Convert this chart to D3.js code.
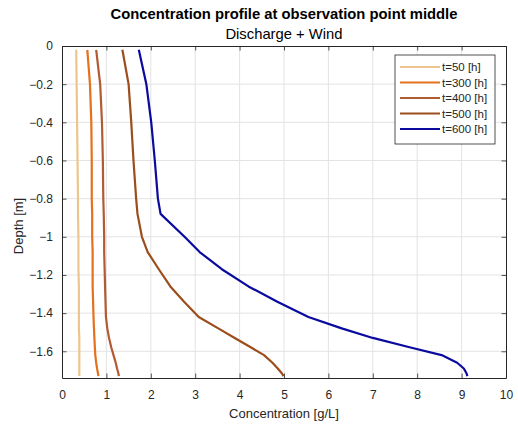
<!DOCTYPE html>
<html>
<head>
<meta charset="utf-8">
<script src="https://cdn.jsdelivr.net/npm/d3@7"></script>
<style>
  html, body { margin: 0; padding: 0; background: #fff; }
  svg { display: block; font-family: "Liberation Sans", Arial, Helvetica, sans-serif; }
</style>
</head>
<body>
<svg id="chart" width="518" height="428"></svg>
<script>
// Depth levels (m) shared by every profile
const depths = [-0.02, -0.2, -0.4, -0.6, -0.8, -0.88, -1.0, -1.08, -1.17, -1.26,
                -1.34, -1.42, -1.48, -1.53, -1.58, -1.62, -1.66, -1.69, -1.715, -1.73];

// Concentration (g/L) at each depth level, one array per time
const conc50  = [0.32, 0.33, 0.34, 0.35, 0.36, 0.36, 0.37, 0.37, 0.37, 0.38,
                 0.38, 0.38, 0.38, 0.39, 0.39, 0.39, 0.39, 0.39, 0.39, 0.39];
const conc300 = [0.57, 0.63, 0.66, 0.67, 0.67, 0.68, 0.68, 0.69, 0.69, 0.69,
                 0.70, 0.71, 0.72, 0.73, 0.74, 0.75, 0.77, 0.79, 0.81, 0.82];
const conc400 = [0.77, 0.86, 0.90, 0.92, 0.93, 0.94, 0.95, 0.95, 0.96, 0.97,
                 0.98, 0.99, 1.02, 1.06, 1.11, 1.16, 1.21, 1.24, 1.27, 1.28];
const conc500 = [1.36, 1.50, 1.56, 1.61, 1.67, 1.70, 1.80, 1.93, 2.18, 2.44,
                 2.75, 3.08, 3.52, 3.89, 4.26, 4.55, 4.74, 4.86, 4.95, 4.99];
const conc600 = [1.73, 1.90, 2.01, 2.09, 2.16, 2.22, 2.76, 3.10, 3.60, 4.20,
                 4.85, 5.55, 6.30, 7.00, 7.85, 8.55, 8.90, 9.05, 9.11, 9.13];

const seriesNames  = ["t=50 [h]", "t=300 [h]", "t=400 [h]", "t=500 [h]", "t=600 [h]"];
const seriesValues = [conc50, conc300, conc400, conc500, conc600];
const seriesColors = ["#EDC48D", "#E4711E", "#B25A32", "#9B4E1C", "#0A0A9E"];

const xTicks = [0, 1, 2, 3, 4, 5, 6, 7, 8, 9, 10];
const yTicks = [0, -0.2, -0.4, -0.6, -0.8, -1, -1.2, -1.4, -1.6];

const titleText    = "Concentration profile at observation point middle";
const subtitleText = "Discharge + Wind";
const xLabelText   = "Concentration [g/L]";
const yLabelText   = "Depth [m]";

// Plot box
const plotLeft = 62, plotRight = 506, plotTop = 46, plotBottom = 378;
const svg = d3.select("#chart");

const x = d3.scaleLinear().domain([0, 10]).range([plotLeft, plotRight]);
const y = d3.scaleLinear().domain([-1.74, 0]).range([plotBottom, plotTop]);

const axisColor = "#262626";
const gridColor = "#e3e3e3";

// Grid lines
const grid = svg.append("g");
grid.selectAll("line.gx").data(xTicks.filter(d => d > 0 && d < 10)).join("line")
  .attr("x1", d => x(d)).attr("x2", d => x(d))
  .attr("y1", plotTop).attr("y2", plotBottom)
  .attr("stroke", gridColor).attr("stroke-width", 1);
grid.selectAll("line.gy").data(yTicks.filter(d => d < 0)).join("line")
  .attr("x1", plotLeft).attr("x2", plotRight)
  .attr("y1", d => y(d)).attr("y2", d => y(d))
  .attr("stroke", gridColor).attr("stroke-width", 1);

// Axes with inward ticks on all four sides
const tickLen = 4.5;
function styleAxis(g) {
  g.select(".domain").attr("stroke", axisColor).attr("stroke-width", 1);
  g.selectAll(".tick line").attr("stroke", axisColor).attr("stroke-width", 0.8);
  g.selectAll(".tick text").attr("fill", axisColor).style("font-size", "12px")
    .style("font-family", "'Liberation Sans', Arial, sans-serif");
}

const xAxis = svg.append("g").attr("transform", `translate(0,${plotBottom})`)
  .call(d3.axisBottom(x).tickValues(xTicks).tickFormat(d3.format("d"))
    .tickSizeInner(-tickLen).tickSizeOuter(0).tickPadding(12.5));
styleAxis(xAxis);

const xAxisTop = svg.append("g").attr("transform", `translate(0,${plotTop})`)
  .call(d3.axisTop(x).tickValues(xTicks).tickFormat("")
    .tickSizeInner(-tickLen).tickSizeOuter(0));
styleAxis(xAxisTop);

const yAxis = svg.append("g").attr("transform", `translate(${plotLeft},0)`)
  .call(d3.axisLeft(y).tickValues(yTicks).tickFormat(d => d === 0 ? "0" : d3.format("")(d))
    .tickSizeInner(-tickLen).tickSizeOuter(0).tickPadding(9));
styleAxis(yAxis);

const yAxisRight = svg.append("g").attr("transform", `translate(${plotRight},0)`)
  .call(d3.axisRight(y).tickValues(yTicks).tickFormat("")
    .tickSizeInner(-tickLen).tickSizeOuter(0));
styleAxis(yAxisRight);

// Profiles
const line = d3.line()
  .x(d => x(d[0]))
  .y(d => y(d[1]));

seriesValues.forEach((vals, i) => {
  svg.append("path")
    .datum(vals.map((v, k) => [v, depths[k]]))
    .attr("fill", "none")
    .attr("stroke", seriesColors[i])
    .attr("stroke-width", 2.2)
    .attr("stroke-linejoin", "round")
    .attr("stroke-linecap", "butt")
    .attr("d", line);
});

// Titles and axis labels
svg.append("text")
  .attr("x", (plotLeft + plotRight) / 2).attr("y", 19)
  .attr("text-anchor", "middle")
  .style("font-size", "14.8px").style("font-weight", "bold")
  .attr("fill", "#000")
  .text(titleText);

svg.append("text")
  .attr("x", (plotLeft + plotRight) / 2).attr("y", 38.5)
  .attr("text-anchor", "middle")
  .style("font-size", "14.8px")
  .attr("fill", "#000")
  .text(subtitleText);

svg.append("text")
  .attr("x", (plotLeft + plotRight) / 2).attr("y", 418)
  .attr("text-anchor", "middle")
  .style("font-size", "13px")
  .attr("fill", axisColor)
  .text(xLabelText);

svg.append("text")
  .attr("transform", `translate(23,${(plotTop + plotBottom) / 2 + 14}) rotate(-90)`)
  .attr("text-anchor", "middle")
  .style("font-size", "13px")
  .attr("fill", axisColor)
  .text(yLabelText);

// Legend
const legX = 395, legY = 55, legW = 100, legH = 89, rowH = 15.5;
const legend = svg.append("g");
legend.append("rect")
  .attr("x", legX).attr("y", legY).attr("width", legW).attr("height", legH)
  .attr("fill", "#fff").attr("stroke", axisColor).attr("stroke-width", 0.8);

const rows = legend.selectAll("g.row").data(seriesNames).join("g")
  .attr("transform", (d, i) => `translate(${legX},${legY + 12 + i * rowH})`);
rows.append("line")
  .attr("x1", 5).attr("x2", 45).attr("y1", 0).attr("y2", 0)
  .attr("stroke", (d, i) => seriesColors[i]).attr("stroke-width", 2.2);
rows.append("text")
  .attr("x", 47).attr("y", 4)
  .style("font-size", "11.5px")
  .attr("fill", axisColor)
  .text(d => d);
</script>
</body>
</html>
